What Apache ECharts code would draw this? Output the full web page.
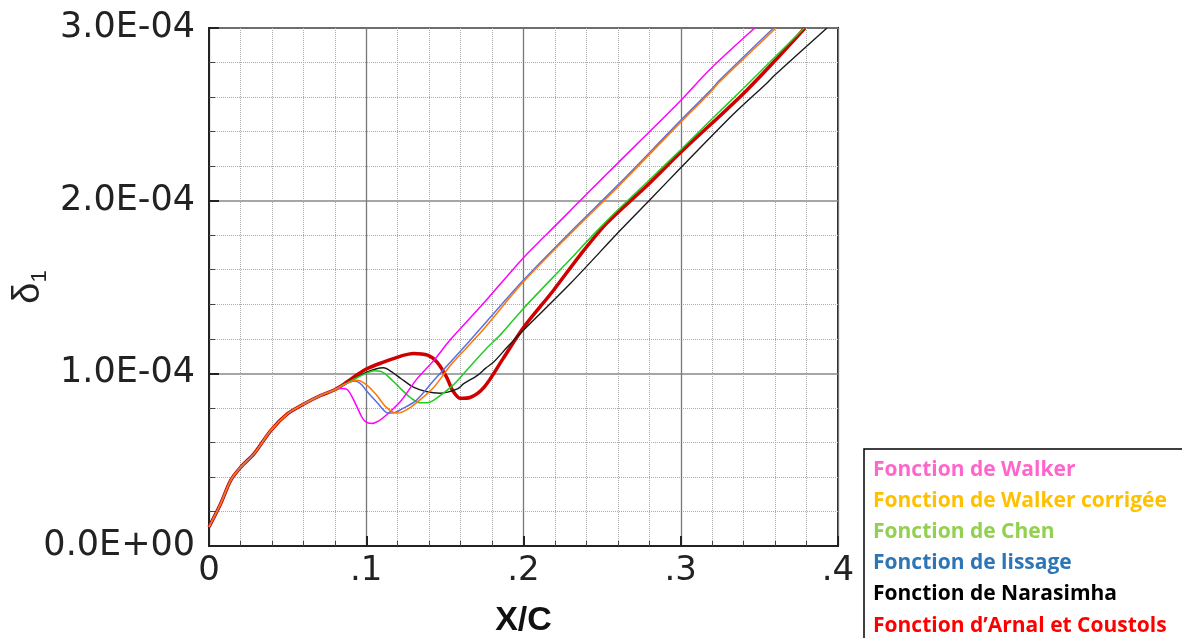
<!DOCTYPE html>
<html>
<head>
<meta charset="utf-8">
<script src="https://cdn.jsdelivr.net/npm/echarts@6/dist/echarts.min.js"></script>
<style>
html,body{margin:0;padding:0;background:#fff;}
#chart{width:1182px;height:638px;}
</style>
</head>
<body>
<div id="chart"></div>
<script>
// delta_1 values are given in units of 1e-4
var UNIT = 1e-4;

// shared leading part of all curves
var commonX = [0, 0.0074, 0.0138, 0.0202, 0.0287, 0.0394, 0.05, 0.0606, 0.0713, 0.08];
var commonV = [0.11, 0.245, 0.38, 0.457, 0.535, 0.67, 0.766, 0.824, 0.873, 0.905];

var walkerX = [0.084, 0.088, 0.0915, 0.097, 0.0995, 0.1035, 0.108, 0.113, 0.122, 0.132, 0.143, 0.153, 0.164, 0.176, 0.2, 0.223, 0.248, 0.278, 0.3, 0.3185, 0.347];
var walkerV = [0.912, 0.905, 0.855, 0.75, 0.72, 0.71, 0.725, 0.76, 0.84, 0.965, 1.075, 1.19, 1.30, 1.42, 1.67, 1.88, 2.11, 2.38, 2.58, 2.76, 3.0];

var walkerCorrX = [0.086, 0.094, 0.1, 0.106, 0.112, 0.117, 0.12, 0.126, 0.132, 0.143, 0.153, 0.164, 0.175, 0.2, 0.23, 0.26, 0.3, 0.318, 0.325, 0.3606];
var walkerCorrV = [0.935, 0.96, 0.935, 0.88, 0.81, 0.775, 0.77, 0.79, 0.83, 0.92, 1.04, 1.15, 1.26, 1.53, 1.81, 2.08, 2.455, 2.62, 2.69, 3.0];

var chenX = [0.087, 0.094, 0.1, 0.105, 0.109, 0.113, 0.122, 0.128, 0.134, 0.139, 0.143, 0.155, 0.165, 0.176, 0.186, 0.2, 0.2255, 0.2526, 0.28, 0.3, 0.3206, 0.3398, 0.3785];
var chenV = [0.94, 0.975, 1.0, 1.015, 1.012, 0.99, 0.91, 0.86, 0.83, 0.83, 0.845, 0.93, 1.03, 1.14, 1.23, 1.376, 1.62, 1.88, 2.12, 2.295, 2.48, 2.65, 3.0];

var lissageX = [0.086, 0.0925, 0.097, 0.1, 0.107, 0.114, 0.118, 0.122, 0.132, 0.1426, 0.153, 0.164, 0.1766, 0.2, 0.23, 0.26, 0.3, 0.318, 0.325, 0.359];
var lissageV = [0.935, 0.955, 0.935, 0.90, 0.83, 0.77, 0.772, 0.79, 0.845, 0.955, 1.06, 1.17, 1.30, 1.54, 1.82, 2.09, 2.465, 2.63, 2.70, 3.0];

var narasimhaX = [0.087, 0.094, 0.1, 0.106, 0.111, 0.116, 0.122, 0.13, 0.138, 0.147, 0.158, 0.162, 0.171, 0.176, 0.181, 0.19, 0.2, 0.2298, 0.2617, 0.2809, 0.3, 0.3334, 0.3547, 0.359, 0.393];
var narasimhaV = [0.94, 0.975, 1.005, 1.025, 1.032, 1.01, 0.97, 0.92, 0.895, 0.885, 0.91, 0.94, 0.99, 1.03, 1.065, 1.155, 1.25, 1.52, 1.83, 2.01, 2.19, 2.50, 2.68, 2.72, 3.0];

var arnalX = [0.087, 0.094, 0.1, 0.111, 0.122, 0.13, 0.139, 0.145, 0.151, 0.155, 0.16, 0.166, 0.175, 0.187, 0.2, 0.219, 0.236, 0.253, 0.28, 0.3, 0.342, 0.379];
var arnalV = [0.945, 0.99, 1.025, 1.065, 1.10, 1.115, 1.105, 1.065, 0.98, 0.90, 0.855, 0.86, 0.92, 1.085, 1.265, 1.48, 1.685, 1.87, 2.10, 2.28, 2.64, 3.0];

var seriesNames = ['Fonction de Walker', 'Fonction de Walker corrigée', 'Fonction de Chen', 'Fonction de lissage', 'Fonction de Narasimha', 'Fonction d\u2019Arnal et Coustols'];
var legendColors = ['#ff66cc', '#ffc000', '#92d050', '#2e75b6', '#000000', '#ff0000'];

function pairs(xs, vs) {
  var allX = commonX.concat(xs), allV = commonV.concat(vs);
  return allX.map(function (x, i) { return [x, allV[i] * UNIT]; });
}

function sciLabel(v) {
  var s = v.toExponential(1);
  var parts = s.split('e');
  var exp = parseInt(parts[1], 10);
  var sign = exp < 0 ? '-' : '+';
  var a = Math.abs(exp);
  return parts[0] + 'E' + sign + (a < 10 ? '0' + a : '' + a);
}

function lineSeries(name, xs, vs, color, width, z) {
  return {
    name: name, type: 'line', data: pairs(xs, vs),
    showSymbol: false, symbol: 'none', smooth: 0.3,
    lineStyle: { color: color, width: width }, itemStyle: { color: color },
    z: z, animation: false
  };
}

var chart = echarts.init(document.getElementById('chart'), null, { renderer: 'canvas' });

var axisFont = 'DejaVu Sans';

chart.setOption({
  backgroundColor: '#ffffff',
  animation: false,
  grid: { left: 209, right: 344, top: 28, bottom: 92, outerBoundsMode: 'none', containLabel: false,
    show: true, borderColor: '#222', borderWidth: 2, backgroundColor: 'transparent' },
  xAxis: {
    type: 'value', min: 0, max: 0.4, interval: 0.1,
    name: 'X/C', nameLocation: 'middle', nameGap: 58, nameMoveOverlap: false,
    nameTextStyle: { fontFamily: 'Liberation Sans', fontWeight: 'bold', fontSize: 34, color: '#111' },
    axisLine: { show: true, onZero: false, lineStyle: { color: '#222', width: 2 } },
    axisTick: { show: true, inside: true, length: 10, lineStyle: { color: '#222', width: 2 } },
    minorTick: { show: true, splitNumber: 5, length: 5, lineStyle: { color: '#444', width: 1 } },
    axisLabel: { margin: 8, fontFamily: axisFont, fontSize: 34, color: '#222',
      formatter: function (v) { return v === 0 ? '0' : v.toFixed(1).replace(/^0/, ''); } },
    splitLine: { show: true, lineStyle: { color: '#777', width: 1.3 } },
    minorSplitLine: { show: true, lineStyle: { color: '#aaa', width: 1, type: 'dotted' } }
  },
  yAxis: {
    type: 'value', min: 0, max: 3e-4, interval: 1e-4,
    name: '{d|\u03b4}{s|1}', nameLocation: 'middle', nameGap: 158, nameRotate: 90, nameMoveOverlap: false,
    nameTextStyle: { rich: {
      d: { fontFamily: 'Liberation Sans', fontSize: 38, color: '#222' },
      s: { fontFamily: 'Liberation Sans', fontSize: 22, color: '#222', padding: [22, 0, 0, 0] }
    } },
    axisLine: { show: true, onZero: false, lineStyle: { color: '#222', width: 2 } },
    axisTick: { show: true, inside: true, length: 10, lineStyle: { color: '#222', width: 2 } },
    minorTick: { show: true, splitNumber: 5, length: 6, lineStyle: { color: '#444', width: 1 } },
    axisLabel: { margin: 14, fontFamily: axisFont, fontSize: 35, color: '#222', formatter: sciLabel },
    splitLine: { show: true, lineStyle: { color: '#888', width: 1.5 } },
    minorSplitLine: { show: true, lineStyle: { color: '#aaa', width: 1, type: 'dotted' } }
  },
  legend: {
    orient: 'vertical', left: 864, top: 449, height: 260, width: 340,
    padding: [5, 30, 30, 4], itemGap: 0, itemWidth: 0, itemHeight: 0,
    borderColor: '#000', borderWidth: 1.5, backgroundColor: '#fff',
    selectedMode: false,
    textStyle: { fontFamily: 'Open Sans', fontWeight: 'bold', fontSize: 21, lineHeight: 31.2 },
    data: seriesNames.map(function (n, i) { return { name: n, icon: 'rect', textStyle: { color: legendColors[i] } }; })
  },
  series: [
    lineSeries(seriesNames[5], arnalX, arnalV, '#d00000', 3.5, 1),
    lineSeries(seriesNames[4], narasimhaX, narasimhaV, '#1a1a1a', 1.4, 2),
    lineSeries(seriesNames[2], chenX, chenV, '#22cc22', 1.5, 3),
    lineSeries(seriesNames[0], walkerX, walkerV, '#ff00ff', 1.5, 4),
    lineSeries(seriesNames[3], lissageX, lissageV, '#5a6fe0', 1.5, 5),
    lineSeries(seriesNames[1], walkerCorrX, walkerCorrV, '#ff7700', 1.5, 6)
  ]
});
</script>
</body>
</html>
